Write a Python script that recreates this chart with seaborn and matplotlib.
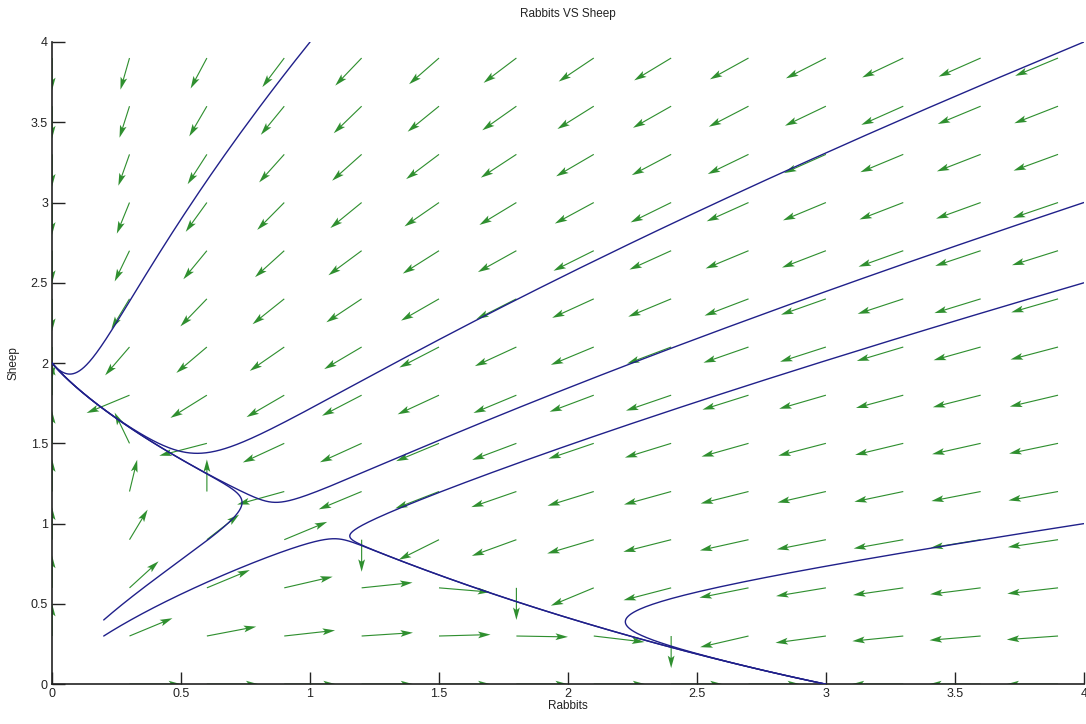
import numpy as np
import pandas as pd
import matplotlib
matplotlib.use('Agg')
import matplotlib.pyplot as plt
import seaborn as sns

# competing species model: x' = x(a - b x - c y), y' = y(d - e x - f y)
rabbit_coef = [3.0, 1.0, 2.0]
sheep_coef = [2.0, 1.0, 1.0]

# quiver grid and arrow length (data units)
grid_vals = [0.0, 0.3, 0.6, 0.9, 1.2, 1.5, 1.8, 2.1, 2.4, 2.7, 3.0, 3.3, 3.6, 3.9]
arrow_len = 0.2

# starting points of the blue trajectories
start_x = [0.2, 0.2, 1.0, 4.0, 4.0, 4.0, 4.0]
start_y = [0.4, 0.3, 4.0, 4.0, 3.0, 2.5, 1.0]
t_end = 15.0
dt = 0.01


def field(x, y):
    a, b, c = rabbit_coef
    d, e, f = sheep_coef
    return x * (a - b * x - c * y), y * (d - e * x - f * y)


def trajectory(x0, y0):
    pts = [(x0, y0)]
    x, y = x0, y0
    for _ in range(int(t_end / dt)):
        k1 = field(x, y)
        k2 = field(x + dt / 2 * k1[0], y + dt / 2 * k1[1])
        k3 = field(x + dt / 2 * k2[0], y + dt / 2 * k2[1])
        k4 = field(x + dt * k3[0], y + dt * k3[1])
        x = x + dt / 6 * (k1[0] + 2 * k2[0] + 2 * k3[0] + k4[0])
        y = y + dt / 6 * (k1[1] + 2 * k2[1] + 2 * k3[1] + k4[1])
        pts.append((x, y))
    return pts


rows = []
for i, (x0, y0) in enumerate(zip(start_x, start_y)):
    for px, py in trajectory(x0, y0):
        rows.append({'traj': i, 'Rabbits': px, 'Sheep': py})
traj_df = pd.DataFrame(rows)

X, Y = np.meshgrid(grid_vals, grid_vals)
U, V = field(X, Y)
L = np.hypot(U, V)
L[L < 1e-9] = np.nan
U = arrow_len * U / L
V = arrow_len * V / L

sns.set_theme(style='white')
plt.rcParams['font.family'] = ['Liberation Sans', 'DejaVu Sans']

fig = plt.figure(figsize=(10.86, 7.24), dpi=100)
ax = fig.add_axes([0.048, 0.055, 0.950, 0.887])

ax.quiver(X, Y, U, V, angles='xy', scale_units='xy', scale=1, color='#2f8f2f',
          width=0.0011, headwidth=6, headlength=11, headaxislength=9, zorder=2)

sns.lineplot(data=traj_df, x='Rabbits', y='Sheep', units='traj', estimator=None,
             sort=False, color='#20208a', linewidth=1.0, ax=ax, zorder=3)

ax.set_xlim(0, 4)
ax.set_ylim(0, 4)
ticks = [0, 0.5, 1, 1.5, 2, 2.5, 3, 3.5, 4]
tick_labels = ['0', '0.5', '1', '1.5', '2', '2.5', '3', '3.5', '4']
ax.set_xticks(ticks)
ax.set_xticklabels(tick_labels)
ax.set_yticks(ticks)
ax.set_yticklabels(tick_labels)
ax.tick_params(direction='in', length=9, width=1, colors='#222222', labelsize=9,
               bottom=True, left=True, pad=3)
for side in ['top', 'right']:
    ax.spines[side].set_visible(False)
for side in ['left', 'bottom']:
    ax.spines[side].set_color('#222222')
    ax.spines[side].set_linewidth(1.2)

ax.set_title('Rabbits VS Sheep', fontsize=8.5, color='#222222', pad=18)
ax.set_xlabel('Rabbits', fontsize=8.5, color='#222222', labelpad=0)
ax.set_ylabel('Sheep', fontsize=8.5, color='#222222', labelpad=8)

fig.savefig('out.png', dpi=100)
